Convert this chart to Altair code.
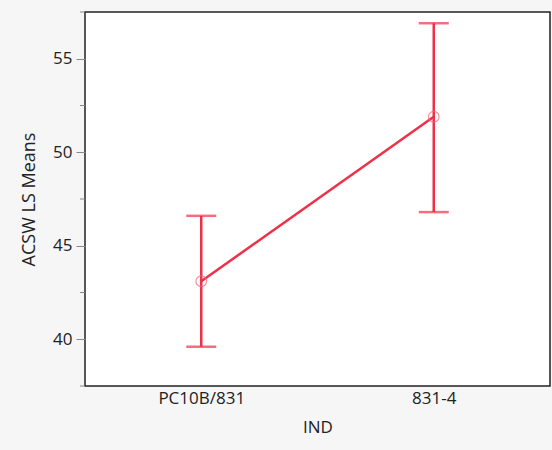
import altair as alt
import pandas as pd

categories = ["PC10B/831", "831-4"]
means = [43.1, 51.9]
lower = [39.6, 46.8]
upper = [46.6, 56.9]
major_ticks = [40, 45, 50, 55]
minor_ticks = [37.5, 42.5, 47.5, 52.5, 57.5]

df = pd.DataFrame({"IND": categories, "mean": means, "lo": lower, "hi": upper})
minor_df = pd.DataFrame({"v": minor_ticks})

RED = "#ee3049"
FONT = "Open Sans"

x_enc = alt.X(
    "IND:N",
    sort=categories,
    scale=alt.Scale(type="point", padding=0.5),
    axis=alt.Axis(
        title="IND", labelAngle=0, ticks=False, domain=False, labelPadding=4,
        titlePadding=13, labelFont=FONT, titleFont=FONT, labelFontSize=17,
        titleFontSize=17, titleFontWeight="normal", labelColor="#222",
        titleColor="#222",
    ),
)
y_scale = alt.Scale(domain=[37.5, 57.5], nice=False, zero=False)
y_axis = alt.Axis(
    title="ACSW LS Means", values=major_ticks, tickSize=9, tickColor="#888",
    domain=False, grid=False, labelPadding=4, titlePadding=14,
    labelFont=FONT, titleFont=FONT, labelFontSize=17, titleFontSize=18,
    titleFontWeight="normal", labelColor="#222", titleColor="#222",
)

base = alt.Chart(df)

rules = base.mark_rule(color=RED, strokeWidth=2.5).encode(
    x=x_enc, y=alt.Y("lo:Q", scale=y_scale, axis=y_axis), y2="hi:Q"
)
caps_lo = base.mark_tick(color=RED, size=30, thickness=2.5).encode(
    x=x_enc, y=alt.Y("lo:Q", scale=y_scale)
)
caps_hi = base.mark_tick(color=RED, size=30, thickness=2.5).encode(
    x=x_enc, y=alt.Y("hi:Q", scale=y_scale)
)
line = base.mark_line(color=RED, strokeWidth=2.5).encode(
    x=x_enc, y=alt.Y("mean:Q", scale=y_scale)
)
points = base.mark_point(filled=False, color="#f0677a", size=113, strokeWidth=1.2).encode(
    x=x_enc, y=alt.Y("mean:Q", scale=y_scale)
)
minor = alt.Chart(minor_df).mark_rule(color="#888", strokeWidth=1).encode(
    x=alt.value(-5), x2=alt.value(0), y=alt.Y("v:Q", scale=y_scale)
)

chart = (
    alt.layer(minor, rules, caps_lo, caps_hi, line, points)
    .properties(
        width=465, height=374,
        autosize=alt.AutoSizeParams(type="none"),
        padding={"left": 85, "top": 12, "right": 2, "bottom": 64},
        background="#f6f6f6",
    )
    .configure_view(fill="white", stroke="#222", strokeWidth=1.5)
)

chart.save("out.html", embed_options={"renderer": "svg", "actions": False})
